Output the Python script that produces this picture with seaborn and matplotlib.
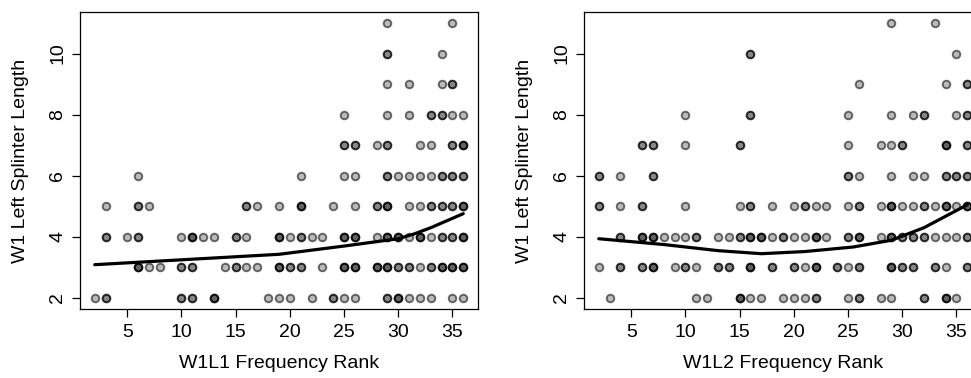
import matplotlib
matplotlib.use("Agg")
import matplotlib.pyplot as plt
import seaborn as sns
import pandas as pd

# ---- data: x values (frequency rank) for each splinter length; repeats = overlapping points
L11 = [29, 35]
L10 = [29, 29, 34]
L9 = [29, 31, 34, 35, 35]
L8 = [25, 29, 31, 33, 33, 34, 34, 35, 36]
L7 = [25, 25, 26, 26, 28, 29, 29, 32, 33, 35, 35, 36, 36, 36]
L6 = [6, 21, 25, 26, 29, 29, 30, 31, 32, 33, 34, 34, 35, 35, 36, 36]
L5 = [3, 6, 6, 7, 16, 16, 17, 19, 21, 21, 21, 24, 26, 28, 28, 29, 29, 29, 31, 32,
      33, 33, 34, 34, 35, 35, 36, 36, 36]
L4 = [3, 3, 5, 6, 6, 10, 11, 11, 11, 12, 13, 15, 15, 16, 19, 19, 19, 20, 21, 21, 22,
      23, 25, 25, 25, 26, 26, 26, 28, 29, 29, 29, 30, 30, 30, 31, 32, 32, 32, 33, 34,
      34, 35, 35, 36, 36, 36]
L3 = [6, 6, 6, 7, 8, 10, 10, 11, 11, 14, 15, 15, 16, 17, 19, 19, 19, 20, 20, 21, 21,
      23, 25, 25, 25, 26, 26, 26, 28, 28, 28, 29, 29, 29, 30, 30, 31, 31, 32, 33, 33,
      34, 34, 34, 35, 35, 35, 36, 36, 36]
L2 = [2, 3, 3, 10, 10, 11, 11, 13, 13, 13, 18, 19, 20, 22, 24, 24, 25, 26, 29, 29,
      30, 30, 30, 31, 32, 33, 35, 36]

R11 = [29, 33]
R10 = [16, 16, 35]
R9 = [26, 34, 36, 36]
R8 = [10, 16, 16, 25, 29, 31, 32, 32, 35, 36, 36]
R7 = [6, 6, 7, 7, 10, 15, 15, 25, 28, 29, 30, 30, 34, 34, 34, 36, 36]
R6 = [2, 2, 4, 7, 7, 25, 25, 26, 29, 31, 32, 34, 34, 35, 35, 36, 36]
R5 = [2, 2, 4, 6, 6, 10, 15, 16, 16, 18, 20, 21, 21, 22, 23, 25, 26, 26, 28, 29, 29,
      29, 30, 31, 32, 32, 33, 34, 34, 34, 35, 36, 36, 36]
R4 = [4, 4, 6, 6, 6, 7, 7, 7, 8, 9, 10, 11, 11, 13, 14, 15, 15, 16, 16, 16, 17, 17,
      17, 18, 19, 19, 20, 21, 22, 22, 22, 23, 25, 25, 26, 26, 26, 28, 29, 29, 29, 30,
      30, 31, 31, 32, 32, 33, 34, 35, 36, 36]
R3 = [2, 4, 4, 6, 6, 7, 7, 7, 9, 10, 10, 11, 13, 13, 14, 14, 16, 16, 16, 18, 18, 20,
      20, 21, 22, 22, 22, 24, 24, 25, 26, 26, 29, 29, 29, 30, 30, 31, 31, 33, 33, 34,
      36, 36]
R2 = [3, 11, 12, 15, 15, 15, 16, 17, 19, 20, 21, 22, 22, 25, 26, 26, 28, 29, 32, 32,
      34, 34, 34, 35]

# smoothed (lowess) curves
L_SMOOTH_X = [2, 10, 19, 25, 30, 31.5, 33, 36]
L_SMOOTH_Y = [3.09, 3.25, 3.43, 3.70, 3.94, 4.10, 4.30, 4.76]
R_SMOOTH_X = [2, 8, 13, 17, 21, 25.5, 29, 32, 36]
R_SMOOTH_Y = [3.94, 3.75, 3.55, 3.45, 3.52, 3.67, 3.89, 4.30, 5.05]

X_TICKS = [5, 10, 15, 20, 25, 30, 35]
Y_TICKS = [2, 4, 6, 8, 10]
X_LABELS = ["W1L1 Frequency Rank", "W1L2 Frequency Rank"]
Y_LABEL = "W1 Left Splinter Length"


def rows_to_df(rows):
    xs, ys = [], []
    for yv, xl in rows.items():
        xs += xl
        ys += [yv] * len(xl)
    return pd.DataFrame({"rank": xs, "length": ys})


left_df = rows_to_df({11: L11, 10: L10, 9: L9, 8: L8, 7: L7, 6: L6, 5: L5, 4: L4, 3: L3, 2: L2})
right_df = rows_to_df({11: R11, 10: R10, 9: R9, 8: R8, 7: R7, 6: R6, 5: R5, 4: R4, 3: R3, 2: R2})
left_line = pd.DataFrame({"rank": L_SMOOTH_X, "length": L_SMOOTH_Y})
right_line = pd.DataFrame({"rank": R_SMOOTH_X, "length": R_SMOOTH_Y})

sns.set_theme(style="white")
plt.rcParams["font.family"] = ["Liberation Sans", "DejaVu Sans"]

W, H = 971, 378
fig = plt.figure(figsize=(W / 100, H / 100), dpi=100)
ax_w, ax_h = 398, 297
axes = [fig.add_axes([80 / W, (H - 309) / H, ax_w / W, ax_h / H]),
        fig.add_axes([584 / W, (H - 309) / H, ax_w / W, ax_h / H])]

for ax, df, line, xl in zip(axes, [left_df, right_df], [left_line, right_line], X_LABELS):
    sns.scatterplot(data=df, x="rank", y="length", ax=ax, s=30,
                    color=(0, 0, 0, 0.27), edgecolor=(0, 0, 0, 0.56), linewidth=1.35,
                    zorder=2)
    sns.lineplot(data=line, x="rank", y="length", ax=ax, color="black", lw=2.3,
                 zorder=3)
    ax.set_xlim(0.64, 37.36)
    ax.set_ylim(1.64, 11.36)
    ax.set_xticks(X_TICKS)
    ax.set_yticks(Y_TICKS)
    ax.set_xticklabels([str(t) for t in X_TICKS])
    ax.set_yticklabels([str(t) for t in Y_TICKS])
    for sp in ax.spines.values():
        sp.set_visible(True)
        sp.set_color("black")
        sp.set_linewidth(0.9)
    ax.tick_params(axis="both", which="major", direction="out", length=6, width=0.9,
                   color="black", labelsize=14, labelcolor="black",
                   bottom=True, left=True, top=False, right=False)
    ax.tick_params(axis="x", pad=5)
    ax.tick_params(axis="y", pad=4)
    for lab in ax.get_yticklabels():
        lab.set_rotation(90)
        lab.set_va("center")
        lab.set_ha("right")
    ax.set_xlabel(xl, fontsize=14, color="black", va="center")
    ax.xaxis.set_label_coords(0.5, -(363 - 309) / ax_h)
    ax.set_ylabel(Y_LABEL, fontsize=14, color="black", va="center")
    ax.yaxis.set_label_coords(-(80 - 20) / ax_w, 0.5)
    ax.grid(False)

fig.savefig("out.png", dpi=100)
